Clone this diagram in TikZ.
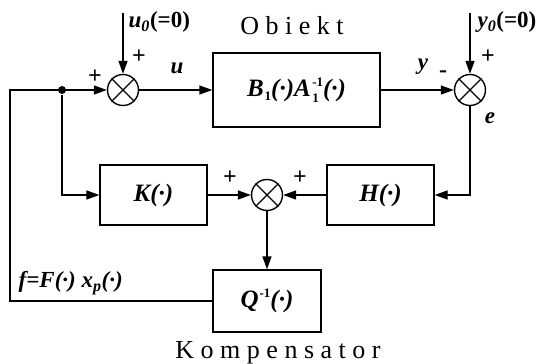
\documentclass[tikz,border=0pt]{standalone}
\usepackage{fontspec}
\setmainfont{Liberation Serif}
\usetikzlibrary{arrows.meta}
\newcommand\idx[2]{\raisebox{#1}{\upshape\fontsize{13}{13}\selectfont #2}}

\begin{document}
\begin{tikzpicture}[x=1pt, y=-1pt, line width=1.4pt,
    blk/.style={draw, minimum width=107pt, minimum height=60pt,
                font=\bfseries\itshape\fontsize{25}{25}\selectfont},
    sumnode/.style={draw, circle, minimum size=31pt, inner sep=0pt},
    arr/.style={-{Triangle[length=13pt, width=9pt]}},
    lbl/.style={font=\bfseries\itshape\fontsize{23}{23}\selectfont, inner sep=0pt},
    sgn/.style={font=\bfseries\fontsize{24}{24}\selectfont, inner sep=0pt},
    ttl/.style={font=\fontsize{26}{26}\selectfont, inner sep=0pt}
  ]
  \useasboundingbox (0,0) rectangle (547,364);

  % blocks and summing points
  \node[blk, minimum width=167pt, minimum height=74pt] (obj) at (296.5,90)
        {B\kern1pt\idx{-4pt}{1}(·)A\kern1.5pt\rlap{\idx{-6pt}{1}}\idx{10pt}{-1}(·)};
  \node[blk] (K) at (153.5,195) {K(·)};
  \node[blk] (H) at (380.5,195) {H(·)};
  \node[blk, minimum width=108pt, minimum height=62pt] (Q) at (267,301)
        {Q\kern1pt\idx{10pt}{-1}(·)};
  \node[sumnode] (s1) at (123,90) {};
  \node[sumnode] (s2) at (470,90) {};
  \node[sumnode] (s3) at (267,195) {};
  \foreach \s in {s1,s2,s3}
    \draw (\s.45) -- (\s.225) (\s.135) -- (\s.315);
  \node[circle, fill, inner sep=0pt, minimum size=8pt] (br) at (62,90) {};

  \coordinate (u0) at (123,13);
  \coordinate (y0) at (470,13);
  \coordinate (lft) at (10,90);

  % connectors
  \draw[arr] (u0) -- (s1);
  \draw[arr] (y0) -- (s2);
  \draw[arr] (s1) -- (obj);
  \draw[arr] (obj) -- (s2);
  \draw[arr] (s2) |- (H.east);
  \draw[arr] (H) -- (s3);
  \draw[arr] (K) -- (s3);
  \draw[arr] (s3) -- (Q);
  \draw[arr] (br) |- (K.west);
  \draw[arr] (Q.west) -| (lft) -- (s1);

  % labels
  \node[lbl, anchor=west] (lu0) at (128,22) {u\textsubscript{0}{\upshape(=0)}};
  \node[lbl, anchor=west] (ly0) at (477,22) {y\textsubscript{0}{\upshape(=0)}};
  \node[lbl] (lu) at (177,68) {u};
  \node[lbl] (ly) at (423,67) {y};
  \node[lbl] (le) at (490,118) {e};
  \node[lbl, anchor=west] (lf) at (18,283) {f=F(·) x\textsubscript{p}(·)};
  \node[sgn] (p1) at (139,57) {+};
  \node[sgn] (p2) at (95,77) {+};
  \node[sgn] (p3) at (488,57) {+};
  \node[sgn] (m1) at (443,74) {-};
  \node[sgn] (p4) at (230,178) {+};
  \node[sgn] (p5) at (300,178) {+};
  \node[ttl] (tobj) at (292,26) {O b i e k t};
  \node[ttl] (tkomp) at (278,353) {K o m p e n s a t o r};
\end{tikzpicture}
\end{document}
